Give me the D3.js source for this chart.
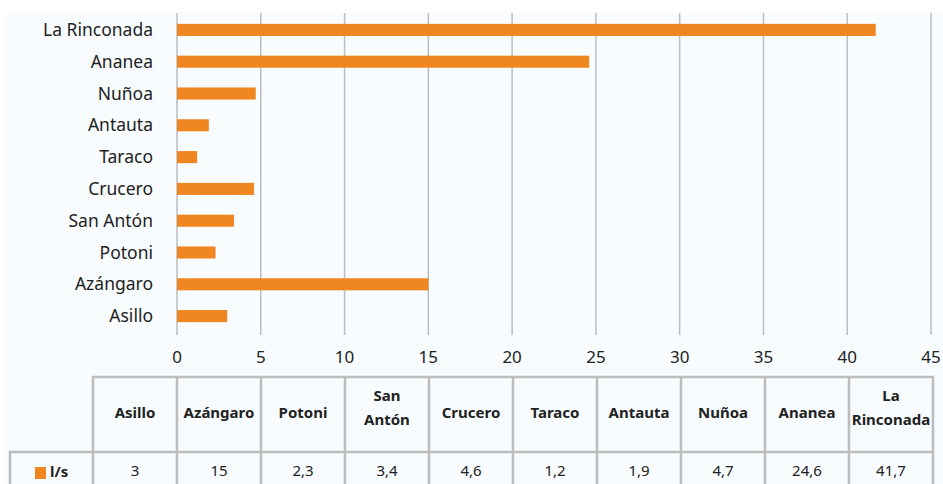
<!DOCTYPE html>
<html>
<head>
<meta charset="utf-8">
<script src="https://cdn.jsdelivr.net/npm/d3@7/dist/d3.min.js"></script>
<style>
	body { margin: 0; background: #fff; }
	svg { display: block; font-family: "Noto Sans", "Open Sans", sans-serif; }
</style>
</head>
<body>
<svg id="chart" width="943" height="484"></svg>
<script>
// values in the order of the data table (bottom to top on the chart)
const categories = ["Asillo", "Azángaro", "Potoni", "San Antón", "Crucero", "Taraco", "Antauta", "Nuñoa", "Ananea", "La Rinconada"];
const values = [3, 15, 2.3, 3.4, 4.6, 1.2, 1.9, 4.7, 24.6, 41.7];
const valueLabels = ["3", "15", "2,3", "3,4", "4,6", "1,2", "1,9", "4,7", "24,6", "41,7"];
const headerLines = [["Asillo"], ["Azángaro"], ["Potoni"], ["San", "Antón"], ["Crucero"], ["Taraco"], ["Antauta"], ["Nuñoa"], ["Ananea"], ["La", "Rinconada"]];
const xTicks = [0, 5, 10, 15, 20, 25, 30, 35, 40, 45];
const seriesName = "l/s";

const orange = "#f0861f";
const gridColor = "#bdbdbd";

const svg = d3.select("#chart");

// light panel background
svg.append("rect").attr("x", 5).attr("y", 12).attr("width", 938).attr("height", 472).attr("fill", "#f8fcfe");

const x = d3.scaleLinear().domain([0, 45]).range([177, 931]);
const y = d3.scaleBand()
	.domain(categories.slice().reverse())
	.range([14, 332])
	.paddingInner(0.62)
	.paddingOuter(0.31);

// vertical gridlines
svg.append("g")
	.selectAll("line")
	.data(xTicks)
	.join("line")
	.attr("x1", d => x(d)).attr("x2", d => x(d))
	.attr("y1", 13).attr("y2", 335)
	.attr("stroke", gridColor)
	.attr("stroke-width", 1.5);

// bars
svg.append("g")
	.selectAll("rect")
	.data(categories)
	.join("rect")
	.attr("x", x(0))
	.attr("y", d => y(d))
	.attr("width", (d, i) => x(values[i]) - x(0))
	.attr("height", y.bandwidth())
	.attr("fill", orange);

// category labels
svg.append("g")
	.selectAll("text")
	.data(categories)
	.join("text")
	.attr("x", 153)
	.attr("y", d => y(d) + y.bandwidth() / 2)
	.attr("dy", "0.35em")
	.attr("text-anchor", "end")
	.attr("font-size", 17.5)
	.attr("fill", "#222")
	.text(d => d);

// x tick labels
svg.append("g")
	.selectAll("text")
	.data(xTicks)
	.join("text")
	.attr("x", d => x(d))
	.attr("y", 357)
	.attr("dy", "0.35em")
	.attr("text-anchor", "middle")
	.attr("font-size", 17)
	.attr("fill", "#222")
	.text(d => d);

// data table
const col = d3.scaleBand().domain(categories).range([93, 933]);
const tTop = 377, tMid = 452, tBot = 492;
const table = svg.append("g").attr("stroke", gridColor).attr("stroke-width", 2.5).attr("fill", "none");

table.append("path").attr("d",
	`M93,${tBot}V${tTop}H933V${tBot}` +
	`M10,${tBot}V${tMid}H933`);
table.selectAll("line.col")
	.data(categories.slice(1))
	.join("line")
	.attr("class", "col")
	.attr("x1", d => col(d)).attr("x2", d => col(d))
	.attr("y1", tTop).attr("y2", tBot);

const heads = svg.append("g")
	.selectAll("text")
	.data(categories)
	.join("text")
	.attr("text-anchor", "middle")
	.attr("font-size", 15)
	.attr("font-weight", "bold")
	.attr("fill", "#222");
heads.each(function (d, i) {
	const lines = headerLines[i];
	const lh = 24;
	const y0 = lines.length > 1 ? 396 : 413;
	d3.select(this).selectAll("tspan")
		.data(lines)
		.join("tspan")
		.attr("x", col(d) + col.bandwidth() / 2)
		.attr("y", (l, j) => y0 + j * lh)
		.attr("dy", "0.35em")
		.text(l => l);
});

svg.append("g")
	.selectAll("text")
	.data(categories)
	.join("text")
	.attr("x", d => col(d) + col.bandwidth() / 2)
	.attr("y", 471)
	.attr("dy", "0.35em")
	.attr("text-anchor", "middle")
	.attr("font-size", 15)
	.attr("fill", "#222")
	.text((d, i) => valueLabels[i]);

// legend key in table
svg.append("rect").attr("x", 35).attr("y", 467).attr("width", 11).attr("height", 12).attr("fill", orange);
svg.append("text")
	.attr("x", 50).attr("y", 472).attr("dy", "0.35em")
	.attr("font-size", 15).attr("font-weight", "bold").attr("fill", "#222")
	.text(seriesName);
</script>
</body>
</html>
